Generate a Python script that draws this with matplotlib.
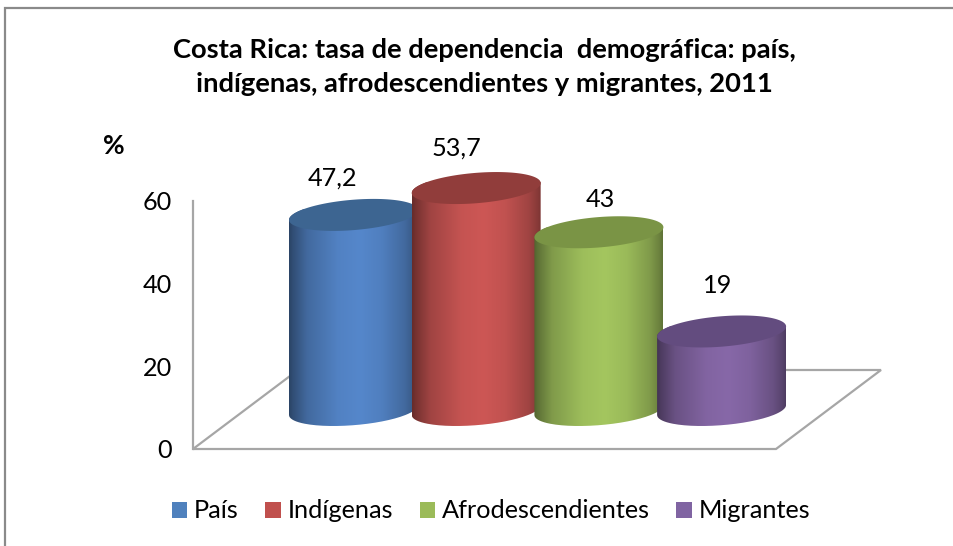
import numpy as np
import matplotlib
matplotlib.use("Agg")
import matplotlib.pyplot as plt
from matplotlib.patches import Patch, PathPatch, Polygon
from matplotlib.lines import Line2D
from matplotlib.path import Path
from matplotlib.colors import to_rgb

plt.rcParams['font.family'] = ['Lato', 'DejaVu Sans']

categories = ["País", "Indígenas", "Afrodescendientes", "Migrantes"]
values = [47.2, 53.7, 43, 19]
value_labels = ["47,2", "53,7", "43", "19"]
y_ticks = [0, 20, 40, 60]
legend_colors = ["#4F81BD", "#C0504D", "#9BBB59", "#8064A2"]
face_colors = ["#5587CB", "#CD5755", "#A4C65F", "#8768A8"]
top_colors = ["#3D6591", "#913D3B", "#7A9445", "#634C7F"]
title = "Costa Rica: tasa de dependencia  demográfica: país,\nindígenas, afrodescendientes y migrantes, 2011"

W, H = 954, 546
fig = plt.figure(figsize=(W / 100, H / 100), dpi=100, facecolor="white")
fig.add_artist(Line2D([5.5 / W, 5.5 / W, 1.0], [0.0, 1 - 7.5 / H, 1 - 7.5 / H], transform=fig.transFigure,
                      color="#8a8a8a", linewidth=1.6, solid_joinstyle="miter"))

# axes box in pixels (y=0 at 449, y=60 at 201)
L, R, B, T = 193, 776, 449, 201
ax = fig.add_axes([L / W, 1 - B / H, (R - L) / W, (B - T) / H])
spacing = 122.7
x0 = 353.5
ax.set_xlim((L - x0) / spacing, (R - x0) / spacing)
ax.set_ylim(0, 60)
ppu = (B - T) / 60.0
for s in ("top", "right", "bottom"):
    ax.spines[s].set_visible(False)
ax.spines["left"].set_color("#a6a6a6")
ax.spines["left"].set_linewidth(1.6)
ax.set_xticks([])
ax.set_yticks(y_ticks)
ax.tick_params(axis="y", length=0, pad=15, labelsize=18.2, labelcolor="black")
ax.patch.set_alpha(0)

# floor parallelogram, in data units
dx = 105 / spacing
dy = 79 / ppu
xl, xr = ax.get_xlim()
ax.add_patch(Polygon([(xl, 0), (xr, 0), (xr + dx, dy), (xl + dx, dy)], closed=True, fill=False,
                     edgecolor="#a6a6a6", linewidth=1.6, clip_on=False, zorder=1))

# cylinders
base = 39 / ppu
a = 64.5 / spacing
c1 = 5 / ppu
c2 = 15.2 / ppu
stops = [0, 0.03, 0.14, 0.38, 0.55, 0.72, 0.9, 0.97, 1]
levels = [0.50, 0.58, 0.78, 0.96, 1.0, 0.94, 0.78, 0.66, 0.58]
label_dx_px = [-21, -20, 1, -4]
label_dy_px = [37, 40, 33, 46]


def ring(xc, yc, t):
    return xc + a * np.cos(t), yc + c1 * np.cos(t) + c2 * np.sin(t)


for i, v in enumerate(values):
    top = base + v
    tb = np.linspace(np.pi, 2 * np.pi, 80)
    xb, yb = ring(i, base, tb)
    tt = np.linspace(0, np.pi, 80)
    xt, yt = ring(i, top, tt)
    body = Path(np.r_[np.c_[xb, yb], np.c_[xt, yt], [[xb[0], yb[0]]]], closed=False)
    clip = PathPatch(body, transform=ax.transData, fc="none", ec="none")
    ax.add_patch(clip)
    u = np.linspace(0, 1, 256)
    lum = np.interp(u, stops, levels)
    img = lum[None, :, None] * np.array(to_rgb(face_colors[i]))[None, None, :]
    im = ax.imshow(img, extent=(i - a, i + a, base - c2 - c1, top + c1), aspect="auto",
                   interpolation="bilinear", zorder=3 + i)
    im.set_clip_box(fig.bbox)
    im.set_clip_path(clip)
    tf = np.linspace(0, 2 * np.pi, 200)
    xf, yf = ring(i, top, tf)
    ax.fill(xf, yf, color=top_colors[i], lw=0, zorder=3 + i + 0.5, clip_on=False)
    ax.annotate(value_labels[i], xy=(i, top), xytext=(label_dx_px[i] * 0.72, label_dy_px[i] * 0.72),
                textcoords="offset points", ha="center", va="center", fontsize=18.2, color="black",
                zorder=10, annotation_clip=False)
ax.set_xlim((L - x0) / spacing, (R - x0) / spacing)
ax.set_ylim(0, 60)

fig.text(484 / W, 1 - 67 / H, title, ha="center", va="center", fontsize=19.7, fontweight="bold",
         linespacing=1.45, color="black")
fig.text(114 / W, 1 - 146 / H, "%", ha="center", va="center", fontsize=19, fontweight="bold", color="black")

handles = [Patch(facecolor=c, edgecolor="none", label=n) for c, n in zip(legend_colors, categories)]
leg = fig.legend(handles=handles, ncol=4, loc="center", bbox_to_anchor=(491 / W, 1 - 511 / H), frameon=False,
                 fontsize=18.2, handlelength=0.6, handleheight=0.6, handletextpad=0.27, columnspacing=1.06,
                 borderpad=0)

fig.savefig("out.png", dpi=100)
